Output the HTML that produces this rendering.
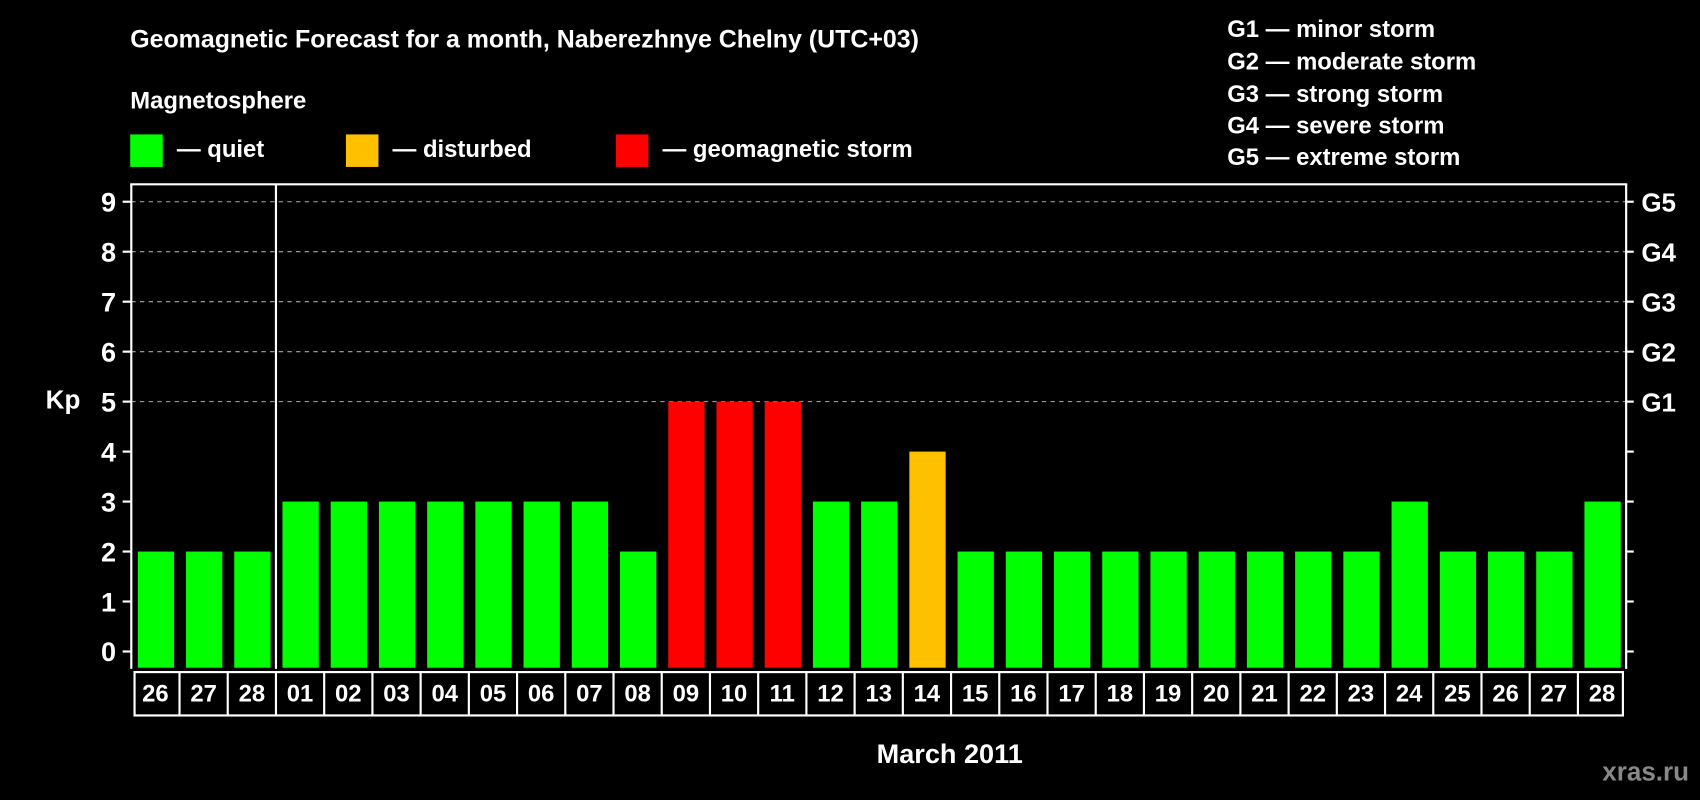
<!DOCTYPE html>
<html><head><meta charset="utf-8"><style>
html,body{margin:0;padding:0;background:#000;}
svg{display:block;font-family:"Liberation Sans",sans-serif;font-weight:bold;}
</style></head><body>
<svg id="chart" width="1700" height="800" viewBox="0 0 1568 738" xmlns="http://www.w3.org/2000/svg">
<rect x="0" y="0" width="1568" height="738" fill="#000"/>
<text x="120" y="44" fill="#fff" font-size="23">Geomagnetic Forecast for a month, Naberezhnye Chelny (UTC+03)</text>
<text x="120" y="100" fill="#fff" font-size="22">Magnetosphere</text>
<g><rect x="120" y="124" width="30" height="30" fill="#00ff00"/><text x="163" y="145" fill="#fff" font-size="22">— quiet</text></g>
<g><rect x="319" y="124" width="30" height="30" fill="#ffc000"/><text x="362" y="145" fill="#fff" font-size="22">— disturbed</text></g>
<g><rect x="568" y="124" width="30" height="30" fill="#ff0000"/><text x="611" y="145" fill="#fff" font-size="22">— geomagnetic storm</text></g>
<g fill="#fff" font-size="22">
<text x="1132" y="34">G1 — minor storm</text>
<text x="1132" y="64">G2 — moderate storm</text>
<text x="1132" y="94">G3 — strong storm</text>
<text x="1132" y="123">G4 — severe storm</text>
<text x="1132" y="152">G5 — extreme storm</text>
</g>
<text x="58" y="377" fill="#fff" font-size="24" text-anchor="middle">Kp</text>
<text x="876" y="704" fill="#fff" font-size="25" text-anchor="middle">March 2011</text>
<text x="1558" y="720" fill="#888" font-size="24" text-anchor="end">xras.ru</text>
<g id="plot"></g>
</svg>
<script>
const days=["26","27","28","01","02","03","04","05","06","07","08","09","10","11","12","13","14","15","16","17","18","19","20","21","22","23","24","25","26","27","28"];
const kp=[2,2,2,3,3,3,3,3,3,3,2,5,5,5,3,3,4,2,2,2,2,2,2,2,2,2,3,2,2,2,3];
const yTicks=[0,1,2,3,4,5,6,7,8,9];
const gLabels=["G1","G2","G3","G4","G5"];
const NS="http://www.w3.org/2000/svg";
const L=121,R=1500,T=170,B=617;
const y=v=>601-v*46.1;
const pitch=(R-L)/days.length;
const x=i=>L+i*pitch;
const g=document.getElementById('plot');
function mk(t,a){const e=document.createElementNS(NS,t);for(const k in a)e.setAttribute(k,a[k]);g.appendChild(e);return e;}
// grid
for(let v=5;v<=9;v++){const l=mk('line',{x1:L,x2:R,y1:y(v),y2:y(v),stroke:'#aaa','stroke-dasharray':'4 4','stroke-width':1});

}
// bars
kp.forEach((v,i)=>{const c=v>=5?'#ff0000':(v>=4?'#ffc000':'#00ff00');
const r=mk('rect',{x:x(i)+6,y:y(v),width:pitch-11,height:616-y(v),fill:c});

});
// frame
mk('line',{x1:L-1,x2:R+1,y1:T,y2:T,stroke:'#fff','stroke-width':2});
mk('line',{x1:L,x2:L,y1:T,y2:B,stroke:'#fff','stroke-width':2});
mk('line',{x1:R,x2:R,y1:T,y2:B,stroke:'#fff','stroke-width':2});
const sep=mk('line',{x1:x(3),x2:x(3),y1:T,y2:B,stroke:'#fff','stroke-width':2});


// ticks
yTicks.forEach(v=>{mk('line',{x1:L-8,x2:L,y1:y(v),y2:y(v),stroke:'#fff','stroke-width':2});
mk('line',{x1:R,x2:R+7,y1:y(v),y2:y(v),stroke:'#fff','stroke-width':2});
const t=mk('text',{x:L-14,y:y(v)+9,fill:'#fff','font-size':25,'text-anchor':'end'});t.textContent=v;

});
gLabels.forEach((s,i)=>{const t=mk('text',{x:R+14,y:y(5+i)+9,fill:'#fff','font-size':24});t.textContent=s;

});
// date boxes
mk('rect',{x:L+3,y:620,width:R-L-6,height:40,fill:'none',stroke:'#fff','stroke-width':2});
days.forEach((d,i)=>{if(i>0)mk('line',{x1:x(i),x2:x(i),y1:620,y2:660,stroke:'#fff','stroke-width':2});
const t=mk('text',{x:x(i)+pitch/2,y:647,fill:'#fff','font-size':22,'text-anchor':'middle'});t.textContent=d;

});
</script>
</body></html>
